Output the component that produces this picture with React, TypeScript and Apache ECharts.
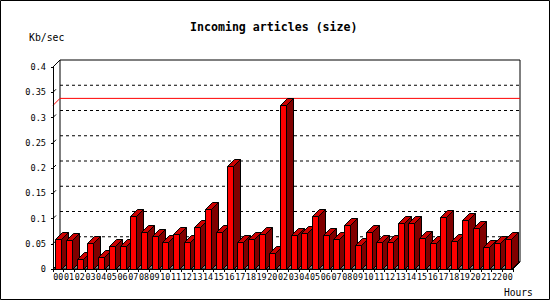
import React, { useEffect, useRef } from "react";
import * as echarts from "echarts";

const hours: string[] = [
  "00", "01", "02", "03", "04", "05", "06", "07", "08", "09", "10",
  "11", "12", "13", "14", "15", "16", "17", "18", "19", "20",
  "02", "03", "04", "05", "06", "07", "08", "09", "10", "11",
  "12", "13", "14", "15", "16", "17", "18", "19", "20", "21", "22", "00",
];

const sizes: number[] = [
  0.059, 0.057, 0.019, 0.051, 0.023, 0.045, 0.045, 0.104, 0.073, 0.065,
  0.053, 0.069, 0.053, 0.083, 0.118, 0.073, 0.203, 0.053, 0.059, 0.069,
  0.031, 0.324, 0.067, 0.071, 0.104, 0.067, 0.059, 0.087, 0.047, 0.074,
  0.053, 0.053, 0.091, 0.091, 0.061, 0.051, 0.103, 0.055, 0.097, 0.081,
  0.044, 0.051, 0.059,
];

const gridValues: number[] = [0.05, 0.1, 0.15, 0.2, 0.25, 0.3, 0.35];

const TITLE = "Incoming articles (size)";
const Y_NAME = "Kb/sec";
const X_NAME = "Hours";

const MONO = "'DejaVu Sans Mono', 'Liberation Mono', monospace";
const D = 7; // 3D depth in px
const HALF = 3; // half width of bar front

export default function App() {
  const ref = useRef<HTMLDivElement>(null);

  useEffect(() => {
    if (!ref.current) return;
    const chart = echarts.init(ref.current, undefined, { renderer: "svg" });
    const maxVal = Math.max(...sizes);

    const frameRender = (params: any, api: any) => {
      const cs = params.coordSys;
      const x0 = cs.x;
      const x1 = cs.x + cs.width;
      const yTop = cs.y;
      const yBot = cs.y + cs.height;
      const children: any[] = [];
      children.push({
        type: "rect",
        shape: { x: x0 + D, y: yTop - D, width: x1 - x0, height: yBot - yTop },
        style: { fill: "#ffffff", stroke: "#000000", lineWidth: 1 },
      });
      children.push({
        type: "line",
        shape: { x1: x0, y1: yTop, x2: x0 + D, y2: yTop - D },
        style: { stroke: "#000000", lineWidth: 1 },
      });
      gridValues.forEach((v) => {
        const y = api.coord([0, v])[1];
        children.push({
          type: "line",
          shape: { x1: x0 + D, y1: y - D, x2: x1 + D, y2: y - D },
          style: { stroke: "#000000", lineWidth: 1, lineDash: [3, 3] },
        });
        children.push({
          type: "line",
          shape: { x1: x0, y1: y, x2: x0 + 3, y2: y - 3 },
          style: { stroke: "#000000", lineWidth: 1 },
        });
      });
      children.push({
        type: "polygon",
        shape: {
          points: [
            [x0, yBot],
            [x1, yBot],
            [x1 + D, yBot - D],
            [x0 + D, yBot - D],
          ],
        },
        style: { fill: "#888888", stroke: "#000000", lineWidth: 1 },
      });
      const ym = api.coord([0, maxVal])[1];
      children.push({
        type: "polyline",
        shape: {
          points: [
            [x0, ym],
            [x0 + D, ym - D],
            [x1 + D, ym - D],
          ],
        },
        style: { stroke: "#ff0000", lineWidth: 1, fill: null },
      });
      return { type: "group", children };
    };

    const barRender = (params: any, api: any) => {
      const idx = api.value(0);
      const v = api.value(1);
      const top = api.coord([idx, v]);
      const base = api.coord([idx, 0]);
      const cx = Math.round(top[0]) + 0.5;
      const ty = Math.round(top[1]) + 0.5;
      const by = Math.round(base[1]) + 0.5;
      const l = cx - HALF;
      const r = cx + HALF;
      return {
        type: "group",
        children: [
          {
            type: "polygon",
            shape: {
              points: [
                [r, ty],
                [r + D, ty - D],
                [r + D, by - D],
                [r, by],
              ],
            },
            style: { fill: "#800000", stroke: "#000000", lineWidth: 1 },
          },
          {
            type: "polygon",
            shape: {
              points: [
                [l, ty],
                [r, ty],
                [r + D, ty - D],
                [l + D, ty - D],
              ],
            },
            style: { fill: "#cc0000", stroke: "#000000", lineWidth: 1 },
          },
          {
            type: "rect",
            shape: { x: l, y: ty, width: r - l, height: by - ty },
            style: { fill: "#ff0000", stroke: "#000000", lineWidth: 1 },
          },
        ],
      };
    };

    chart.setOption({
      animation: false,
      backgroundColor: "#ffffff",
      title: {
        text: TITLE,
        left: 190,
        top: 21,
        padding: 0,
        textStyle: {
          fontFamily: MONO,
          fontSize: 11.6,
          fontWeight: "bold",
          color: "#000000",
        },
      },
      graphic: [
        {
          type: "rect",
          shape: { x: 0.5, y: 0.5, width: 549, height: 299 },
          style: { fill: "none", stroke: "#000000", lineWidth: 1 },
          z: 100,
        },
        {
          type: "text",
          x: 29,
          y: 32,
          style: {
            text: Y_NAME,
            fontFamily: MONO,
            fontSize: 9.8,
            fill: "#000000",
          },
        },
        {
          type: "text",
          x: 504,
          y: 287,
          style: {
            text: X_NAME,
            fontFamily: MONO,
            fontSize: 9.6,
            fill: "#000000",
          },
        },
      ],
      grid: { left: 53, right: 37, top: 67, bottom: 31, containLabel: false },
      xAxis: {
        type: "category",
        data: hours,
        boundaryGap: true,
        axisLine: { show: true, lineStyle: { color: "#000000", width: 1 } },
        axisTick: { show: true, length: 3, lineStyle: { color: "#000000" } },
        axisLabel: {
          interval: 0,
          fontFamily: MONO,
          fontSize: 8.4,
          color: "#000000",
          margin: 4,
        },
        splitLine: { show: false },
        z: 10,
      },
      yAxis: {
        type: "value",
        min: 0,
        max: 0.4,
        interval: 0.05,
        axisLine: { show: true, lineStyle: { color: "#000000", width: 1 } },
        axisTick: { show: true, length: 2, lineStyle: { color: "#000000" } },
        axisLabel: {
          fontFamily: MONO,
          fontSize: 8.6,
          color: "#000000",
          margin: 7,
        },
        splitLine: { show: false },
        z: 10,
      },
      series: [
        {
          type: "custom",
          name: "frame",
          coordinateSystem: "cartesian2d",
          data: [[0, 0]],
          renderItem: frameRender,
          clip: false,
          silent: true,
          z: 1,
        },
        {
          type: "custom",
          name: "size",
          coordinateSystem: "cartesian2d",
          data: sizes.map((v, i) => [i, v]),
          encode: { x: 0, y: 1 },
          renderItem: barRender,
          clip: false,
          z: 2,
        },
      ],
    });

    return () => {
      chart.dispose();
    };
  }, []);

  return (
    <div
      style={{
        position: "fixed",
        left: 0,
        top: 0,
        width: 550,
        height: 300,
        background: "#ffffff",
      }}
    >
      <div ref={ref} style={{ width: 550, height: 300 }} />
    </div>
  );
}
